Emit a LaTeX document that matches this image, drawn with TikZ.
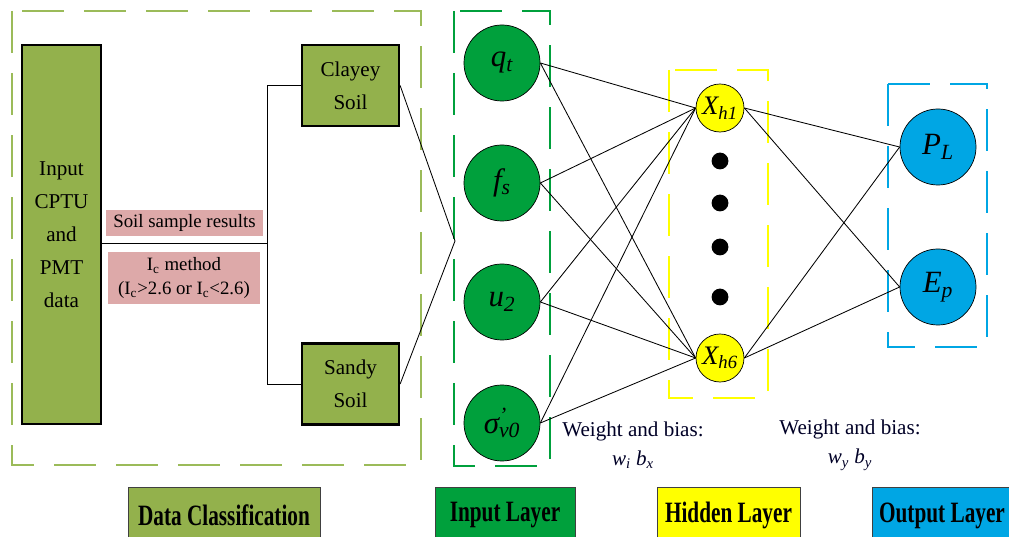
\documentclass[tikz,border=0pt]{standalone}
\usepackage{fontspec}
\setmainfont{Liberation Serif}
\usepackage{xcolor}
\usepackage{graphicx}

\definecolor{dcgreen}{HTML}{93B14C}
\definecolor{dcdash}{HTML}{9BBB59}
\definecolor{ingreen}{HTML}{00A03C}
\definecolor{hidyel}{HTML}{FFFF00}
\definecolor{outblue}{HTML}{00A6E4}
\definecolor{pinkbg}{HTML}{DDA9A9}

\newcommand{\lgdtext}[1]{\scalebox{0.72}[1]{\fontsize{21}{21}\selectfont\bfseries #1}}

\begin{document}
\begin{tikzpicture}[x=0.025cm, y=-0.025cm,
      wire/.style={line width=0.6pt},
      grp/.style={line width=1.8pt, dash pattern=on 1.05cm off 0.5cm},
      soilbox/.style={draw, line width=1.6pt, fill=dcgreen, inner sep=0pt, align=center,
        font=\fontsize{15}{23.5}\selectfont},
      note/.style={fill=pinkbg, inner sep=0pt, align=center, font=\fontsize{13.4}{17}\selectfont},
      neuron/.style={draw, circle, line width=0.5pt, inner sep=0pt, minimum size=1.9cm,
        font=\fontsize{22}{22}\selectfont\itshape},
      hid/.style={neuron, fill=hidyel, minimum size=1.2cm, font=\fontsize{19}{19}\selectfont\itshape},
      dot/.style={circle, fill=black, inner sep=0pt, minimum size=0.42cm},
      lgd/.style={draw=black!75, line width=0.6pt, anchor=north, minimum height=1.4cm, inner sep=0pt},
      wb/.style={align=center, font=\fontsize{15}{21}\selectfont, text=black!85!blue}
    ]
      \useasboundingbox (0,0) rectangle (1009,537);

      \draw[grp, dcdash] (12,11) rectangle (421,465);
      \draw[grp, ingreen] (454,11) rectangle (550,466);
      \draw[grp, hidyel] (669,70) rectangle (768,398);
      \draw[grp, outblue] (888,84) rectangle (987,347);

      \node[soilbox, minimum width=1.975cm, minimum height=9.475cm] (cptu) at (61.5,234.5) {Input\\CPTU\\and\\PMT\\data};
      \node[soilbox, minimum width=2.425cm, minimum height=2.025cm] (clay) at (350.5,85.5) {Clayey\\Soil};
      \node[soilbox, minimum width=2.425cm, minimum height=2.025cm] (sand) at (350.5,384) {Sandy\\Soil};
      \node[note, minimum width=3.925cm, minimum height=0.65cm] (ssr) at (184.5,223) {Soil sample results};
      \node[note, minimum width=3.8cm, minimum height=1.3cm] (icm) at (184,278) {I\textsubscript{c} method\\(I\textsubscript{c}>2.6 or I\textsubscript{c}<2.6)};

      \coordinate (br) at (267,243);
      \coordinate (mrg) at (455,241);
      \draw[wire] (br -| cptu.east) -- (br);
      \draw[wire] (clay.west) -| (br);
      \draw[wire] (sand.west) -| (br);
      \draw[wire] (clay.east) -- (mrg) -- (sand.east);

      \node[neuron, fill=ingreen] (qt) at (502,63) {q\textsubscript{t}};
      \node[neuron, fill=ingreen] (fs) at (502,183) {f\textsubscript{s}};
      \node[neuron, fill=ingreen] (u2) at (502,302) {u\textsubscript{2}};
      \node[neuron, fill=ingreen] (sv) at (502,423) {σ\rlap{\textsuperscript{'}}\textsubscript{v0}};

      \node[hid] (h1) at (720,108) {X\textsubscript{h1}};
      \node[hid] (h6) at (720,358) {X\textsubscript{h6}};
      \foreach \y [count=\k] in {161,203,247,297}
        \node[dot] (d\k) at (720,\y) {};

      \node[neuron, fill=outblue] (pl) at (938,147) {P\textsubscript{L}};
      \node[neuron, fill=outblue] (ep) at (938,287) {E\textsubscript{p}};

      \foreach \i in {qt,fs,u2,sv}
        \foreach \h in {h1,h6}
          \draw[wire] (\i.east) -- (\h.west);
      \foreach \h in {h1,h6}
        \foreach \o in {pl,ep}
          \draw[wire] (\h.east) -- (\o.west);

      \node[wb] (wbi) at (633,445) {Weight and bias:\\{\itshape w\textsubscript{i} b\textsubscript{x}}};
      \node[wb] (wby) at (850,445) {Weight and bias:\\{\itshape w\textsubscript{y} b\textsubscript{y}}};

      \node[lgd, fill=dcgreen, minimum width=4.8cm] (ldc) at (224,487) {\lgdtext{Data Classification}};
      \node[lgd, fill=ingreen, minimum width=3.5cm] (lin) at (505,487) {\lgdtext{Input Layer}};
      \node[lgd, fill=hidyel, minimum width=3.575cm] (lhd) at (728.5,487) {\lgdtext{Hidden Layer}};
      \node[lgd, fill=outblue, minimum width=3.5cm] (lout) at (942,487) {\lgdtext{Output Layer}};
    \end{tikzpicture}
\end{document}
